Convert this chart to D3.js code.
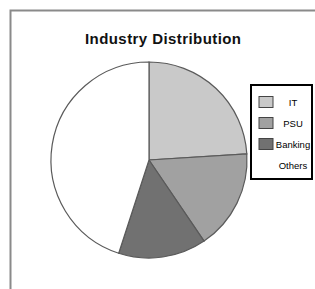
<!DOCTYPE html>
<html><head><meta charset="utf-8">
<script src="https://cdn.jsdelivr.net/npm/d3@7"></script>
<style>html,body{margin:0;padding:0;background:#fff;}</style>
</head><body>
<script>
const categories = ["IT", "PSU", "Banking", "Others"];
const values = [24, 16.5, 14.5, 45];
const colors = ["#c9c9c9", "#a1a1a1", "#717171", "#ffffff"];
const title = "Industry Distribution";

const W = 315, H = 289;
const svg = d3.select("body").append("svg").attr("width", W).attr("height", H);

// frame
svg.append("path").attr("d", "M10.5,289 L10.5,10.5 L315,10.5")
  .attr("fill", "none").attr("stroke", "#8a8a8a").attr("stroke-width", 2);

svg.append("text").attr("x", 163).attr("y", 44).attr("text-anchor", "middle")
  .attr("font-family", "Liberation Sans, Arial, sans-serif").attr("font-weight", "bold")
  .attr("font-size", 15).attr("textLength", 156).attr("fill", "#111").text(title);

const data = categories.map((c, i) => ({cat: c, v: values[i], col: colors[i]}));
const pie = d3.pie().sort(null).value(d => d.v);
const arc = d3.arc().innerRadius(0).outerRadius(98);
const g = svg.append("g").attr("transform", "translate(149,160)");
g.selectAll("path").data(pie(data)).join("path")
  .attr("d", arc).attr("fill", d => d.data.col)
  .attr("stroke", "#5a5a5a").attr("stroke-width", 1.2);

// legend
const lg = svg.append("g");
lg.append("rect").attr("x", 251).attr("y", 85).attr("width", 61).attr("height", 94)
  .attr("fill", "#fff").attr("stroke", "#000").attr("stroke-width", 2);
const y = d3.scalePoint().domain(categories).range([102, 165]);
const items = lg.selectAll("g.it").data(data).join("g").attr("class", "it");
items.filter(d => d.cat !== "Others").append("rect")
  .attr("x", 259).attr("y", d => y(d.cat) - 5.5).attr("width", 14).attr("height", 11)
  .attr("fill", d => d.col).attr("stroke", "#444").attr("stroke-width", 1);
items.append("text").attr("x", 293).attr("y", d => y(d.cat) + 3.5).attr("text-anchor", "middle")
  .attr("font-family", "Liberation Sans, Arial, sans-serif").attr("font-size", 9.5)
  .attr("fill", "#000").text(d => d.cat);
</script>
</body></html>
